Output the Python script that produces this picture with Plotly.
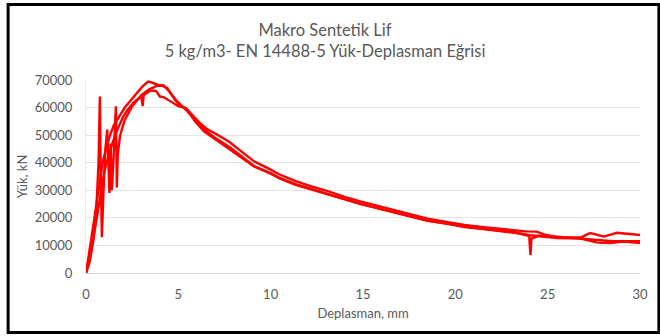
import plotly.graph_objects as go

# Load-displacement curves (EN 14488-5), three specimens
x_s1 = [0, 0.2, 0.4, 0.55, 0.68, 0.75, 0.8, 0.86, 0.95, 1.05, 1.15, 1.2, 1.27, 1.33, 1.4,
        1.48, 1.55, 1.62, 1.67, 1.72, 1.85, 2.1, 2.5, 3.0, 3.4, 3.8, 4.1, 4.4, 4.8, 5.1,
        5.4, 5.7, 6.2, 6.6, 7.0, 7.75, 8.5, 9.1, 10.0, 10.45, 11.35, 12.2, 13.14, 14.0,
        14.9, 15.8, 16.7, 17.6, 18.5, 19.6, 20.5, 21.4, 22.3, 23.2, 23.8, 24.4, 24.8,
        25.5, 26.2, 26.8, 27.3, 28.05, 28.75, 29.3, 30.0]
y_s1 = [0, 4000, 12000, 22000, 40000, 64000, 35000, 13000, 30000, 45000, 52000, 40000,
        29000, 47000, 30000, 40000, 48000, 60500, 31000, 43000, 50000, 55500, 60500,
        64500, 66500, 67800, 68000, 67000, 63000, 60500, 59800, 57800, 54200, 52000,
        50600, 47600, 43800, 40500, 37500, 35800, 33300, 31400, 29600, 27600, 25900,
        24300, 22700, 21100, 19700, 18400, 17400, 16700, 16100, 15400, 15100, 15000,
        14000, 13000, 12900, 12900, 14500, 13200, 14600, 14200, 13800]

x_s2 = [0, 0.2, 0.4, 0.6, 0.8, 1.0, 1.2, 1.45, 1.7, 2.0, 2.26, 2.6, 3.0, 3.07, 3.12,
        3.5, 3.8, 4.0, 4.2, 4.6, 5.0, 5.3, 5.6, 6.0, 6.5, 7.0, 7.75, 8.5, 9.1, 10.0,
        10.45, 11.35, 12.2, 13.14, 14.0, 14.9, 15.8, 16.7, 17.6, 18.5, 19.6, 20.5, 21.4,
        22.3, 23.2, 24.07, 24.8, 25.5, 26.2, 26.8, 27.7, 28.4, 29.1, 30.0]
y_s2 = [0, 5000, 12500, 21000, 30000, 37000, 42000, 47500, 52000, 56500, 59200, 62000,
        64000, 60500, 64500, 66200, 66000, 64000, 63800, 62000, 60500, 60000, 58000,
        55000, 51500, 49000, 45800, 42000, 38800, 36200, 34600, 32200, 30400, 28600,
        26800, 25000, 23500, 21900, 20300, 18900, 17800, 16700, 16000, 15400, 14600,
        13700, 13100, 12700, 12600, 12500, 11000, 10900, 11400, 10900]

x_s3 = [0, 0.15, 0.3, 0.5, 0.7, 0.9, 1.1, 1.3, 1.5, 1.8, 2.1, 2.45, 2.75, 3.05, 3.36,
        3.6, 3.9, 4.2, 4.5, 4.9, 5.2, 5.5, 5.9, 6.4, 7.0, 7.75, 8.5, 9.1, 10.0, 10.45,
        11.35, 12.2, 13.14, 14.0, 14.9, 15.8, 16.7, 17.6, 18.5, 19.6, 20.5, 21.4, 22.3,
        23.2, 24.0, 24.07, 24.12, 24.5, 25.5, 26.2, 27.5, 28.5, 30.0]
y_s3 = [0, 6000, 13000, 22000, 31000, 40000, 45500, 50000, 53500, 57000, 60000, 62800,
        65000, 67600, 69400, 69000, 68200, 68000, 66000, 62500, 60500, 59000, 55000,
        51300, 48500, 45000, 41700, 38600, 36000, 34400, 32000, 30300, 28500, 26700,
        25000, 23500, 22000, 20400, 19000, 17800, 16800, 16100, 15500, 14800, 13400,
        6500, 12500, 13500, 13200, 12800, 11800, 11500, 11500]

y_ticks = [0, 10000, 20000, 30000, 40000, 50000, 60000, 70000]
y_tick_labels = [str(v) for v in y_ticks]
x_ticks = [0, 5, 10, 15, 20, 25, 30]

grey = "#595959"
font_family = "Lato, 'Open Sans', sans-serif"

fig = go.Figure()
for xs, ys in [(x_s1, y_s1), (x_s2, y_s2), (x_s3, y_s3)]:
    fig.add_trace(go.Scatter(x=xs, y=ys, mode="lines",
                             line=dict(color="#FF0000", width=2.4),
                             showlegend=False, hoverinfo="skip"))

L, R, T, B = 86, 17, 80, 63
W, H = 660, 336
pw, ph = W - L - R, H - T - B

fig.update_layout(
    width=W, height=H,
    margin=dict(l=L, r=R, t=T, b=B),
    paper_bgcolor="white", plot_bgcolor="white",
    font=dict(family=font_family, color=grey, size=13),
    title=dict(text="Makro Sentetik Lif<br>5 kg/m3- EN 14488-5 Yük-Deplasman Eğrisi",
               x=325 / W, xanchor="center", y=1 - 36 / H, yanchor="middle",
               font=dict(size=16.5, color=grey, family=font_family)),
    xaxis=dict(range=[0, 30], tickvals=x_ticks, showgrid=False, zeroline=False,
               showline=True, linecolor="#D9D9D9", linewidth=1.2,
               ticks="", ticklabelstandoff=9,
               tickfont=dict(size=13, color=grey),
               title=dict(text="Deplasman, mm", standoff=8,
                          font=dict(size=13, color=grey))),
    yaxis=dict(range=[0, 70000], tickvals=y_ticks, ticktext=y_tick_labels,
               showgrid=True, gridcolor="#E4E4E4", gridwidth=1, zeroline=False,
               showline=True, linecolor="#EDEDED", linewidth=1,
               ticks="", ticklabelstandoff=10,
               tickfont=dict(size=13, color=grey),
               title=dict(text="Yük, kN", standoff=4,
                          font=dict(size=13, color=grey))),
)

# black frame around the chart object
fig.add_shape(type="rect", xref="paper", yref="paper",
              x0=(7.7 - L) / pw, x1=(662 - L) / pw,
              y0=-(332.5 - (T + ph)) / ph, y1=(T + ph - 4.5) / ph,
              line=dict(color="black", width=3), fillcolor="rgba(0,0,0,0)",
              layer="above")

fig.write_html("out.html")
